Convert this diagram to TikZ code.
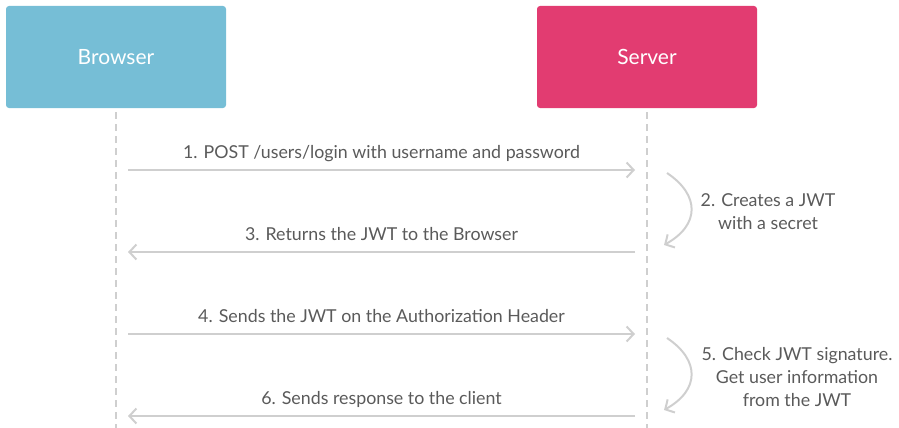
\documentclass[tikz,border=0pt]{standalone}
\usepackage{fontspec}
\setmainfont{Lato}
\usepackage{tikz}
\usetikzlibrary{arrows.meta, positioning}
\definecolor{browserblue}{HTML}{76BED6}
\definecolor{serverpink}{HTML}{E23C71}
\definecolor{linegray}{HTML}{CFCFCF}
\definecolor{textgray}{HTML}{5A5A5A}

\begin{document}
\begin{tikzpicture}[x=1pt, y=1pt,
    actor/.style={fill=#1, draw=none, rounded corners=3pt, minimum width=220pt, minimum height=102pt,
      text=white, font=\fontsize{21}{24}\selectfont},
    lifeline/.style={draw=linegray, line width=2.8pt, dash pattern=on 7pt off 5pt},
    msg/.style={draw=linegray, line width=2pt, -{Straight Barb[length=7pt, width=15pt, line width=2pt]}},
    msglabel/.style={text=textgray, font=\fontsize{17.8}{23}\selectfont, align=center},
    above msg/.style={msglabel, anchor=base, yshift=12pt}
  ]
    \useasboundingbox (0,0) rectangle (899,-428);

    % participants
    \node[actor=browserblue] (browser) at (116,-57) {Browser};
    \node[actor=serverpink] (server) at (647,-57) {Server};

    \coordinate (browserend) at (116,-428);
    \coordinate (serverend) at (647,-428);
    \draw[lifeline] ([yshift=-4pt]browser.south) -- (browserend);
    \draw[lifeline] ([yshift=-4pt]server.south) -- (serverend);

    % message end points
    \coordinate (b1) at (128,-170);  \coordinate (s1) at (635,-170);
    \coordinate (b3) at (128,-252);  \coordinate (s3) at (635,-252);
    \coordinate (b4) at (128,-334);  \coordinate (s4) at (635,-334);
    \coordinate (b6) at (128,-416);  \coordinate (s6) at (635,-416);

    \draw[msg] (b1) -- node[above msg] (m1) {1. POST /users/login with username and password} (s1);
    \draw[msg] (s3) -- node[above msg] (m3) {3. Returns the JWT to the Browser} (b3);
    \draw[msg] (b4) -- node[above msg] (m4) {4. Sends the JWT on the Authorization Header} (s4);
    \draw[msg] (s6) -- node[above msg] (m6) {6. Sends response to the client} (b6);

    % server side steps
    \coordinate (c2top) at (667,-173);  \coordinate (c2bot) at (664,-245);
    \coordinate (c5top) at (667,-338);  \coordinate (c5bot) at (664,-410);
    \draw[msg] (c2top) .. controls +(33,-22) and +(36,20) .. (c2bot);
    \draw[msg] (c5top) .. controls +(33,-22) and +(36,20) .. (c5bot);

    \node[msglabel] (step2) at (768,-212) {2. Creates a JWT\\with a secret};
    \node[msglabel] (step5) at (797,-377) {5. Check JWT signature.\\Get user information\\from the JWT};
  \end{tikzpicture}
\end{document}
